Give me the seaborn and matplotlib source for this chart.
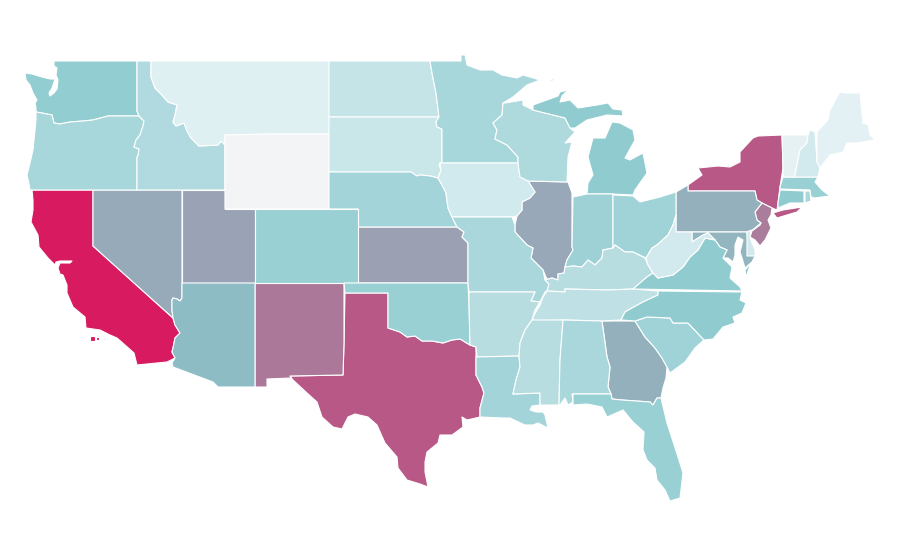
import matplotlib
matplotlib.use("Agg")
import matplotlib.pyplot as plt
from matplotlib.colors import LinearSegmentedColormap, Normalize
import seaborn as sns

sns.set_theme(style="white")

# state values, 0-100
states = ["CA", "TX", "NY", "NM", "NJ", "KS", "UT", "IL", "NV", "PA", "GA", "MD", "AZ",
          "WA", "OR", "ID", "MT", "WY", "ND", "SD", "NE", "CO", "OK", "MN", "IA", "MO",
          "AR", "LA", "WI", "MI", "IN", "OH", "KY", "TN", "MS", "AL", "FL", "SC", "NC",
          "VA", "WV", "DE", "CT", "RI", "MA", "VT", "NH", "ME"]
values = [100, 72, 72, 62, 60, 47, 46, 44, 43, 41, 41, 39, 36,
          29, 23, 20, 6, 0, 14, 12.5, 24, 27, 27, 23, 10.5, 22,
          18, 24, 21, 30, 26, 25, 18, 16, 18, 22, 27, 25, 30,
          30, 10, 10, 30, 22, 27, 4, 10, 5]

# colour stops of the scale
scale_colors = ["#f3f4f6", "#dff0f3", "#8fcbd0", "#8ebcc5", "#98a8b8", "#ac7899", "#b85886", "#d81b60"]
scale_stops = [0, 0.06, 0.3, 0.36, 0.44, 0.62, 0.72, 1]

# shared borders, pixel coordinates of the 900x560 map
columbia = [(139, 116), (108, 116), (93, 120), (83, 121), (70, 122), (60, 124), (54, 123),
            (52, 115), (42, 113), (36, 112)]
snake = [(139, 116), (144, 121), (143, 126), (140, 135), (136, 140), (134, 147), (139, 149),
         (138, 156), (137, 157), (137, 190)]
bitterroot = [(151, 61), (151, 77), (155, 88), (162, 95), (168, 102), (177, 105), (175, 115),
              (173, 122), (176, 126), (184, 123), (187, 131), (191, 138), (197, 144),
              (199, 146), (218, 145), (221, 141), (225, 145)]
nv_az = [(182, 283), (182, 298), (180, 301), (177, 299), (173, 298), (172, 300), (172, 310),
         (173, 318)]
colorado_river = [(173, 318), (175, 325), (180, 333), (175, 338), (173, 348), (172, 352),
                  (175, 358)]
red_river = [(388, 328), (400, 332), (407, 337), (415, 336), (422, 341), (432, 341),
             (443, 343), (452, 340), (460, 339), (470, 345)]
sabine = [(476, 357), (476, 375), (482, 387), (484, 393), (480, 408), (480, 417)]
missouri_river = [(438, 178), (442, 185), (446, 193), (448, 208), (452, 217), (457, 227)]
big_sioux = [(440, 163), (439, 165), (441, 170), (438, 178)]
ks_mo = [(457, 227), (464, 232), (462, 237), (468, 243), (468, 283)]
il_west = [(528, 181), (535, 192), (530, 198), (522, 202), (522, 210), (517, 216), (515, 225),
           (515, 232), (527, 245), (533, 248), (531, 258), (543, 270), (545, 280)]
ohio_river = [(645, 258), (633, 252), (625, 252), (615, 245), (613, 248), (603, 250), (602, 258),
              (595, 265), (588, 260), (582, 267), (573, 266), (565, 267)]
il_ky = [(565, 267), (564, 273), (558, 274), (558, 280), (552, 278), (545, 280), (549, 284)]
river_low = [(540, 302), (535, 310), (532, 320), (525, 330), (520, 343), (519, 356), (520, 367),
             (516, 380), (513, 394)]
wi_il = [(567, 182), (528, 181), (520, 177), (518, 163), (518, 157), (507, 145), (495, 139),
         (497, 130), (493, 123), (502, 115), (503, 103)]
al_ga = [(602, 321), (607, 357), (610, 367), (608, 387), (611, 394)]
savannah = [(635, 321), (645, 337), (655, 348), (662, 358), (667, 367)]
ga_south = [(611, 394), (612, 399), (622, 400), (650, 402), (653, 405), (657, 398), (661, 398)]
sc_north = [(635, 321), (647, 317), (670, 318), (673, 323), (688, 323), (704, 340)]
tn_east = [(658, 291), (658, 295), (643, 302), (632, 308), (625, 312), (621, 320)]
wv_south = [(653, 273), (658, 278), (673, 275), (683, 267), (690, 257), (698, 250), (705, 238)]
wv_west = [(676, 215), (673, 225), (668, 235), (657, 245), (652, 248), (646, 258)]
pa_east = [(755, 191), (757, 200), (762, 203), (755, 212), (757, 220), (761, 223), (750, 232)]
md_wv = [(692, 242), (703, 235), (708, 233), (715, 240), (720, 247), (727, 250), (723, 258)]

outlines = {
    "WA": [[(54, 61), (137, 61), (137, 111)] + columbia
           + [(36, 108), (35, 103), (37, 100), (33, 93), (30, 85), (26, 80), (25, 73), (32, 74),
              (42, 77), (50, 79), (55, 79), (52, 88), (49, 93), (50, 96), (54, 93), (57, 89),
              (58, 80), (56, 75), (57, 68), (54, 66)]],
    "OR": [columbia[::-1] + snake
           + [(30, 190), (29, 184), (27, 175), (30, 163), (33, 150), (34, 140), (35, 130), (36, 120)]],
    "ID": [[(137, 61)] + bitterroot + [(225, 190)] + snake[::-1] + [(137, 111)]],
    "MT": [bitterroot + [(225, 135), (275, 134), (330, 134), (330, 61)]],
    "WY": [[(225, 135), (275, 134), (330, 134), (330, 209), (225, 209)]],
    "ND": [[(329, 61), (430, 61), (432, 73), (436, 93), (439, 117), (329, 117)]],
    "SD": [[(329, 117), (439, 117), (436, 122), (437, 127), (442, 129), (442, 162), (440, 163)]
           + big_sioux[1:] + [(430, 176), (420, 175), (417, 176), (411, 172), (329, 172)]],
    "NE": [[(329, 172), (411, 172), (417, 176), (420, 175), (430, 176)] + missouri_river
           + [(358, 227), (358, 209), (329, 209)]],
    "CO": [[(255, 209), (329, 209), (358, 209), (358, 283), (255, 283)]],
    "UT": [[(182, 190), (225, 190), (225, 209), (255, 209), (255, 283), (182, 283)]],
    "NV": [[(93, 190), (182, 190)] + nv_az + [(93, 246)]],
    "CA": [[(32, 190), (93, 190), (93, 246)] + colorado_river
           + [(167, 362), (137, 365), (134, 353), (125, 345), (117, 338), (110, 335), (100, 330),
              (86, 328), (85, 317), (73, 307), (67, 293), (67, 285), (63, 275), (60, 274), (58, 268),
              (60, 263), (70, 263), (72, 261), (60, 261), (56, 262), (55, 265), (48, 258), (39, 247),
              (38, 235), (31, 222), (33, 210), (33, 200)],
           [(90, 336), (95, 336), (95, 341), (90, 341)],
           [(96, 337), (99, 337), (99, 340), (96, 340)]],
    "AZ": [nv_az + colorado_river[1:]
           + [(172, 363), (173, 367), (213, 382), (218, 387), (255, 387), (255, 283)]],
    "NM": [[(255, 283), (344, 283), (344, 343), (343, 375), (290, 376), (291, 378), (267, 379),
            (267, 387), (255, 387)]],
    "TX": [[(345, 293), (388, 293)] + red_river
           + [(476, 347)] + sabine
           + [(467, 420), (462, 417), (463, 427), (452, 435), (440, 435), (438, 443), (427, 452),
              (425, 462), (425, 472), (428, 487), (420, 484), (407, 480), (398, 468), (397, 457),
              (385, 443), (377, 425), (368, 417), (355, 414), (348, 417), (342, 429), (333, 427),
              (322, 417), (317, 402), (307, 393), (293, 380), (290, 376), (343, 375), (344, 343)]],
    "OK": [[(344, 283), (468, 283), (469, 303)] + red_river[::-1] + [(388, 293), (345, 293)]],
    "KS": [[(358, 227)] + ks_mo + [(358, 283)]],
    "MO": [[(452, 217), (512, 217), (515, 225), (515, 232), (527, 245), (533, 248), (531, 258),
            (543, 270), (545, 280), (549, 284), (548, 290), (545, 292), (540, 302), (531, 301),
            (535, 292), (469, 292), (468, 283), (468, 243), (462, 237), (464, 232), (457, 227)]],
    "AR": [[(469, 292), (535, 292), (531, 301)] + river_low[:6] + [(477, 357), (476, 347), (470, 345),
                                                                  (469, 303)]],
    "LA": [[(476, 357)] + river_low[5:]
           + [(540, 393), (540, 405), (532, 406), (530, 410), (536, 412), (543, 412), (545, 415),
              (548, 428), (538, 423), (533, 425), (525, 425), (510, 418), (503, 418), (480, 417)]
           + sabine[::-1][1:]],
    "MN": [[(430, 61), (461, 61), (461, 55), (465, 55), (467, 65), (480, 70), (493, 70), (502, 75),
            (517, 78), (523, 75), (540, 80), (527, 85), (513, 97), (503, 103), (502, 115), (493, 123),
            (497, 130), (495, 139), (507, 145), (518, 157), (518, 163), (442, 163), (442, 129),
            (437, 127), (436, 122), (439, 117), (436, 93), (432, 73)]],
    "IA": [[(440, 163), (518, 163), (520, 177), (528, 181), (535, 192), (530, 198), (522, 202),
            (522, 210), (517, 216), (512, 217), (452, 217), (448, 208), (446, 193), (442, 185),
            (438, 178), (441, 170)]],
    "WI": [[(505, 103), (523, 100), (523, 105), (533, 110), (565, 118), (570, 128), (575, 132),
            (565, 143), (572, 142), (568, 157)] + wi_il],
    "IL": [[(568, 182), (572, 193), (572, 247), (573, 250), (567, 260)] + il_ky
           + il_west[::-1][1:]],
    "IN": [[(573, 197), (587, 194), (613, 194), (613, 248), (603, 250), (602, 258), (595, 265),
            (588, 260), (582, 267), (573, 266), (565, 267), (567, 260), (573, 250), (572, 247)]],
    "OH": [[(613, 195), (633, 196), (640, 202), (660, 197), (676, 192)] + wv_west
           + [(633, 252), (625, 252), (615, 245), (613, 248)]],
    "MI": [[(533, 105), (558, 96), (560, 92), (568, 90), (562, 96), (560, 102), (570, 100), (578, 108),
            (597, 105), (608, 103), (613, 109), (622, 110), (623, 116), (607, 115), (587, 120), (575, 128),
            (570, 128), (565, 118), (533, 110)],
           [(587, 194), (588, 183), (593, 175), (588, 157), (593, 138), (605, 138), (612, 122),
            (620, 123), (633, 130), (635, 140), (625, 158), (630, 160), (643, 153), (647, 173),
            (635, 190), (633, 195), (613, 194)],
           [(550, 81), (554, 78), (555, 79), (551, 82)]],
    "KY": [ohio_river + il_ky[1:] + [(547, 291), (565, 292), (565, 289), (608, 290), (633, 289),
                                     (647, 277), (653, 273), (648, 265)]],
    "TN": [[(547, 291), (565, 292), (565, 289), (608, 290), (633, 289)] + tn_east
           + [(602, 321), (563, 320), (533, 321), (533, 317), (540, 305), (543, 297)]],
    "MS": [[(532, 320), (563, 320), (560, 360), (559, 405), (540, 405), (540, 393)]
           + river_low[:2:-1]],
    "AL": [[(563, 320)] + al_ga + [(572, 394), (573, 402), (568, 405), (565, 398), (560, 405), (559, 405),
                                  (560, 360)]],
    "GA": [[(602, 321), (635, 321)] + savannah[1:]
           + [(666, 378), (663, 388), (661, 398), (657, 398), (653, 405), (650, 402), (622, 400),
              (612, 399), (611, 394), (608, 387), (610, 367), (607, 357)]],
    "FL": [[(573, 394)] + ga_south
           + [(667, 423), (678, 457), (683, 473), (680, 498), (670, 501), (665, 490), (657, 480),
              (655, 468), (647, 460), (643, 450), (644, 432), (633, 422), (623, 410), (607, 417),
              (602, 407), (587, 404), (573, 405), (573, 402)]],
    "SC": [sc_north + [(695, 348), (685, 362), (670, 373), (667, 367)] + savannah[::-1][1:]],
    "NC": [[(658, 291), (742, 292), (740, 300), (746, 303), (742, 313), (733, 317), (735, 323),
            (723, 327), (713, 339), (704, 340)] + sc_north[::-1][1:] + [(621, 320)]
           + tn_east[::-1][1:]],
    "VA": [[(633, 289), (647, 277)] + wv_south + [(715, 240), (720, 247), (727, 250), (723, 258),
                                                  (732, 267), (730, 278), (740, 287), (742, 291)],
           [(751, 263), (746, 277), (745, 270)]],
    "WV": [[(676, 215), (676, 232), (692, 232), (692, 242), (703, 235), (708, 233), (715, 240)]
           + wv_south[::-1] + [(648, 265)] + wv_west[::-1]],
    "MD": [[(692, 232), (747, 232), (748, 243), (755, 256), (752, 262), (745, 268), (742, 258),
            (740, 252), (743, 240), (738, 237), (735, 245), (735, 255), (733, 262), (728, 258)]
           + md_wv[::-1]],
    "DE": [[(747, 232), (751, 230), (750, 238), (755, 250), (755, 256), (747, 256)]],
    "PA": [[(676, 192), (688, 185), (688, 191)] + pa_east + [(747, 232), (676, 232)]],
    "NJ": [[(762, 203), (772, 208), (771, 215), (768, 220), (771, 228), (765, 240), (760, 246),
            (755, 240), (750, 237), (752, 231), (760, 225), (761, 223), (757, 220), (755, 212)]],
    "NY": [[(688, 185), (702, 175), (698, 168), (718, 166), (730, 167), (740, 162), (740, 152),
            (753, 138), (758, 136), (782, 135), (783, 168), (780, 187), (778, 203), (777, 210),
            (772, 208), (762, 203), (757, 200), (755, 191), (688, 191)],
           [(773, 213), (783, 210), (802, 207), (797, 212), (787, 215), (777, 218)]],
    "VT": [[(782, 135), (808, 135), (807, 143), (800, 150), (795, 175), (795, 177), (783, 177), (783, 168)]],
    "NH": [[(808, 135), (810, 130), (815, 132), (817, 162), (820, 168), (818, 177), (795, 177),
            (795, 175), (800, 150), (807, 143)]],
    "ME": [[(817, 132), (828, 120), (830, 110), (840, 92), (845, 93), (860, 93), (863, 123), (868, 125),
            (870, 135), (875, 140), (857, 143), (847, 143), (843, 152), (830, 155), (820, 168), (817, 162)]],
    "MA": [[(783, 177), (818, 177), (815, 182), (822, 190), (830, 196), (822, 197), (815, 198),
            (811, 197), (810, 190), (780, 189), (780, 187)]],
    "CT": [[(780, 190), (804, 191), (804, 203), (790, 203), (778, 208), (778, 203)]],
    "RI": [[(805, 191), (810, 191), (811, 201), (805, 203)]],
}

fig, ax = plt.subplots(figsize=(9, 5.6), dpi=100)
fig.subplots_adjust(left=0, right=1, top=1, bottom=0)

cmap = LinearSegmentedColormap.from_list("states", list(zip(scale_stops, sns.color_palette(scale_colors))))
norm = Normalize(vmin=0, vmax=100)

for state, value in zip(states, values):
    for part in outlines[state]:
        xs, ys = zip(*part)
        ax.fill(xs, ys, facecolor=cmap(norm(value)), edgecolor="white", linewidth=0.8, joinstyle="round")

ax.set_xlim(0, 900)
ax.set_ylim(560, 0)
ax.axis("off")

fig.savefig("out.png", dpi=100)
